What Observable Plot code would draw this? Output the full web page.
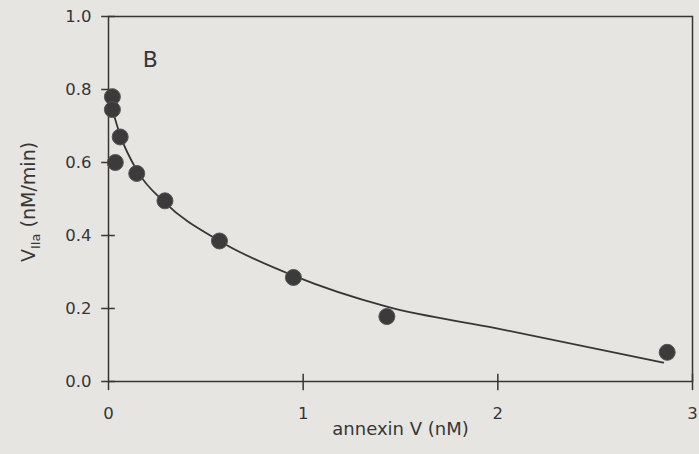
<!DOCTYPE html>
<html>
<head>
<meta charset="utf-8">
<script src="https://cdn.jsdelivr.net/npm/d3@7"></script>
<script src="https://cdn.jsdelivr.net/npm/@observablehq/plot@0.6"></script>
<style>
  html, body { margin: 0; padding: 0; background: #e6e5e2; }
  #chart { width: 699px; height: 454px; }
  svg { font-family: "DejaVu Sans", sans-serif; }
</style>
</head>
<body>
<div id="chart"></div>
<script>
// Measured points: annexin V (nM) vs V_IIa (nM/min)
const annexin = [0.02, 0.02, 0.035, 0.06, 0.145, 0.29, 0.57, 0.95, 1.43, 2.87];
const rate    = [0.78, 0.745, 0.60, 0.67, 0.57, 0.495, 0.385, 0.285, 0.178, 0.08];

// Fitted curve
const fitX = [0.02, 0.06, 0.15, 0.29, 0.57, 0.95, 1.43, 2.0, 2.85];
const fitY = [0.745, 0.675, 0.575, 0.49, 0.385, 0.29, 0.205, 0.145, 0.052];

// Ticks
const xTicks = [0, 1, 2, 3];
const yTicks = [0, 0.2, 0.4, 0.6, 0.8, 1.0];
const panelLabel = "B";
const xLabel = "annexin V (nM)";

const points = annexin.map((x, i) => ({x, y: rate[i]}));
const fit = fitX.map((x, i) => ({x, y: fitY[i]}));

const ink = "#363636";
const font = "DejaVu Sans, sans-serif";

const plot = Plot.plot({
  width: 699,
  height: 454,
  marginLeft: 108,
  marginRight: 7,
  marginTop: 16,
  marginBottom: 73,
  style: {background: "transparent", color: ink, fontSize: "16.5px", fontFamily: font},
  x: {domain: [0, 3], ticks: xTicks, tickFormat: d3.format("d")},
  y: {domain: [0, 1], ticks: yTicks, tickFormat: d3.format(".1f")},
  marks: [
    Plot.frame({stroke: ink, strokeWidth: 1.5}),
    Plot.axisX({ticks: xTicks, tickFormat: d3.format("d"), tickSize: 0, tickPadding: 26, label: null, fontSize: 16.5}),
    Plot.axisY({ticks: yTicks, tickFormat: d3.format(".1f"), tickSize: 0, tickPadding: 17, label: null, fontSize: 16.5}),
    Plot.ruleY(yTicks, {y: d => d, x1: -0.035, x2: 0.035, stroke: ink, strokeWidth: 1.5, clip: false}),
    Plot.ruleX(xTicks.slice(1), {x: d => d, y1: -0.025, y2: 0.02, stroke: ink, strokeWidth: 1.5, clip: false}),
    Plot.ruleX([0], {x: d => d, y1: -0.025, y2: 0, stroke: ink, strokeWidth: 1.5, clip: false}),
    Plot.line(fit, {x: "x", y: "y", curve: "monotone-x", stroke: ink, strokeWidth: 1.8}),
    Plot.dot(points, {x: "x", y: "y", r: 8, fill: "#3b3b3b", stroke: "#555", strokeWidth: 1}),
    Plot.text([panelLabel], {x: 0.215, y: 0.882, text: d => d, fontSize: 22, fill: ink}),
    Plot.text([xLabel], {frameAnchor: "bottom", dy: 53, text: d => d, fontSize: 18, fill: ink})
  ]
});

// Y-axis label with subscript
const svg = d3.select(plot);
const yl = svg.append("text")
  .attr("transform", "translate(35,202) rotate(-90)")
  .attr("text-anchor", "middle")
  .attr("fill", ink)
  .attr("font-size", 19)
  .attr("font-family", font);
yl.append("tspan").text("V");
yl.append("tspan").attr("font-size", 13).attr("dy", 5).text("IIa");
yl.append("tspan").attr("dy", -5).text(" (nM/min)");

document.getElementById("chart").appendChild(plot);
</script>
</body>
</html>
